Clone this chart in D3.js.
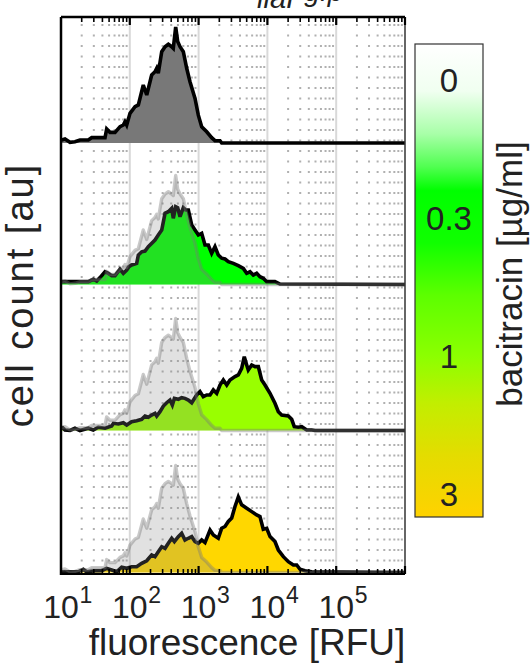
<!DOCTYPE html>
<html><head><meta charset="utf-8">
<script src="https://cdn.jsdelivr.net/npm/d3@7"></script>
<style>
body{margin:0;background:#fff;}
svg{display:block;}
text{font-family:"Liberation Sans",Arial,Helvetica,sans-serif;fill:#222;}
</style>
</head><body>
<svg id="chart" width="532" height="664"></svg>
<script>
// ---------- data (x in log10 RFU, y = normalised cell count) ----------
const ctrlLog = [1.01,1.058,1.131,1.203,1.276,1.397,1.446,1.64,1.664,1.712,1.785,1.858,1.906,1.93,1.955,2.003,2.076,2.124,2.196,2.246,2.318,2.366,2.391,2.414,2.464,2.512,2.56,2.609,2.632,2.667,2.696,2.73,2.778,2.827,2.875,2.948,2.996,3.045,3.118,3.19,3.238,3.311,3.336,6];
const ctrlCount = [0.026,0.034,0.006,0.011,0.026,0.026,0.046,0.046,0.121,0.092,0.092,0.141,0.155,0.184,0.155,0.256,0.313,0.328,0.5,0.414,0.586,0.614,0.644,0.601,0.787,0.83,0.851,0.83,0.816,1.0,0.874,0.83,0.787,0.644,0.528,0.384,0.24,0.14,0.097,0.046,0.02,0.02,0,0];

const bac03Log = [1.01,1.397,1.469,1.519,1.567,1.64,1.688,1.737,1.785,1.858,1.906,1.955,1.988,2.027,2.1,2.124,2.173,2.221,2.269,2.366,2.414,2.464,2.512,2.56,2.609,2.632,2.667,2.696,2.73,2.778,2.813,2.851,2.9,2.948,2.996,3.045,3.093,3.141,3.19,3.238,3.286,3.336,3.384,3.432,3.505,3.577,3.65,3.699,3.747,3.795,3.844,3.892,3.94,3.99,4.11,4.183,6];
const bac03Count = [0.026,0.026,0.048,0.032,0.063,0.117,0.103,0.081,0.081,0.14,0.103,0.133,0.164,0.179,0.194,0.27,0.3,0.307,0.347,0.408,0.454,0.5,0.653,0.668,0.699,0.607,0.714,0.705,0.622,0.705,0.684,0.684,0.546,0.5,0.454,0.47,0.362,0.362,0.286,0.347,0.271,0.241,0.234,0.21,0.194,0.173,0.148,0.103,0.117,0.087,0.103,0.072,0.057,0.026,0.026,0.004,0];

const bac1Log = [1.01,1.058,1.131,1.203,1.276,1.397,1.469,1.542,1.64,1.737,1.762,1.834,1.906,1.955,2.027,2.1,2.173,2.221,2.269,2.318,2.366,2.391,2.439,2.488,2.536,2.584,2.618,2.648,2.705,2.754,2.802,2.851,2.9,2.972,3.02,3.068,3.118,3.166,3.214,3.263,3.311,3.359,3.409,3.456,3.529,3.577,3.626,3.664,3.699,3.722,3.772,3.82,3.868,3.917,3.965,4.038,4.11,4.159,4.208,4.304,4.353,4.391,4.449,4.499,4.571,4.644,4.692,6];
const bac1Count = [0.034,0.004,0,0.02,0,0.02,0.004,0.029,0.02,0.04,0.064,0.058,0.07,0.049,0.079,0.088,0.1,0.129,0.118,0.138,0.153,0.129,0.168,0.218,0.248,0.272,0.228,0.287,0.278,0.293,0.287,0.272,0.248,0.317,0.347,0.302,0.317,0.317,0.362,0.332,0.406,0.451,0.406,0.451,0.481,0.496,0.555,0.659,0.585,0.54,0.585,0.57,0.57,0.451,0.406,0.332,0.243,0.168,0.138,0.129,0.1,0.034,0.029,0.034,0.004,0.004,0,0];

const bac3Log = [1.01,1.251,1.324,1.372,1.494,1.591,1.664,1.737,1.809,1.882,1.955,2.027,2.1,2.173,2.246,2.318,2.366,2.414,2.464,2.512,2.56,2.609,2.648,2.705,2.754,2.802,2.851,2.9,2.948,2.996,3.045,3.093,3.166,3.214,3.286,3.336,3.384,3.432,3.481,3.529,3.577,3.626,3.699,3.772,3.844,3.892,3.94,3.99,4.038,4.11,4.159,4.232,4.304,4.377,4.426,4.474,4.547,4.644,6];
const bac3Count = [0.007,0.007,0.03,0.007,0.017,0.017,0.039,0.023,0.007,0.049,0.039,0.054,0.054,0.086,0.11,0.164,0.148,0.194,0.241,0.226,0.273,0.32,0.288,0.335,0.367,0.304,0.32,0.335,0.288,0.273,0.304,0.279,0.397,0.35,0.32,0.414,0.43,0.477,0.509,0.617,0.705,0.632,0.601,0.569,0.538,0.523,0.404,0.413,0.336,0.29,0.21,0.148,0.101,0.07,0.07,0.03,0.017,0.007,0];

const concentrations = ["0", "0.3", "1", "3"];
const panelColors = ["#787878", "#00ff00", "#99ff00", "#ffd700"];
const tickExponents = [1, 2, 3, 4, 5];
const xDomain = [1e1, 1e6];

// ---------- layout ----------
const svg = d3.select("#chart");
const L = 61, R = 405, T = 17, B = 574;
const panelBase = [143, 284.5, 430.5, 572.5];
const panelUnit = [116, 109, 112, 107];

const x = d3.scaleLog().domain(xDomain).range([L, R]);
const toX = v => x(Math.pow(10, v));

const series = [
  {log: ctrlLog, cnt: ctrlCount},
  {log: bac03Log, cnt: bac03Count},
  {log: bac1Log, cnt: bac1Count},
  {log: bac3Log, cnt: bac3Count}
];
const zip = s => s.log.map((v, i) => [v, s.cnt[i]]);

// ---------- grid ----------
const minorVals = [];
for (let d = 1; d < 6; d++) for (let m = 2; m <= 9; m++) minorVals.push(m * Math.pow(10, d));
const majorVals = [1e2, 1e3, 1e4, 1e5];

svg.append("g").selectAll("line").data(minorVals).join("line")
  .attr("x1", d => x(d)).attr("x2", d => x(d)).attr("y1", T + 7).attr("y2", B)
  .attr("stroke", "#b0b0b0").attr("stroke-width", 2).attr("stroke-dasharray", "2,8.5");
svg.append("g").selectAll("line").data(majorVals).join("line")
  .attr("x1", d => x(d)).attr("x2", d => x(d)).attr("y1", T).attr("y2", B)
  .attr("stroke", "#d9d9d9").attr("stroke-width", 2);

// ---------- histograms ----------
series.forEach((s, i) => {
  const y = d3.scaleLinear().domain([0, 1]).range([panelBase[i], panelBase[i] - panelUnit[i]]);
  const area = d3.area().x(d => toX(d[0])).y0(panelBase[i]).y1(d => y(d[1]));
  const line = d3.line().x(d => toX(d[0])).y(d => y(d[1]));
  const g = svg.append("g");
  g.append("path").datum(zip(s)).attr("d", area).attr("fill", panelColors[i]);
  g.append("path").datum(zip(s)).attr("d", line).attr("fill", "none")
    .attr("stroke", "#000").attr("stroke-width", 3.6).attr("stroke-linejoin", "miter").attr("stroke-miterlimit", 3);
  if (i > 0) {
    const ref = zip(series[0]);
    g.append("path").datum(ref).attr("d", area).attr("fill", "#888").attr("fill-opacity", 0.25);
    g.append("path").datum(ref).attr("d", line).attr("fill", "none")
      .attr("stroke", "#777").attr("stroke-opacity", 0.4).attr("stroke-width", 3.4).attr("stroke-linejoin", "round");
  }
});

// ---------- frame & ticks ----------
const frame = svg.append("g").attr("fill", "none").attr("stroke", "#000");
frame.append("line").attr("x1", L).attr("x2", L).attr("y1", T).attr("y2", B + 1).attr("stroke-width", 2.5);
frame.append("line").attr("x1", L).attr("x2", R).attr("y1", T).attr("y2", T).attr("stroke-width", 2.5);
frame.append("line").attr("x1", R).attr("x2", R).attr("y1", T).attr("y2", B).attr("stroke-width", 1.5).attr("stroke", "#333");
frame.append("line").attr("x1", L).attr("x2", R).attr("y1", B).attr("y2", B).attr("stroke-width", 1.8);

const isMajor = v => Math.abs(Math.log10(v) - Math.round(Math.log10(v))) < 1e-9;
const allTicks = minorVals.concat(majorVals, [1e6]);
frame.append("g").selectAll("line").data(allTicks).join("line")
  .attr("x1", d => x(d)).attr("x2", d => x(d)).attr("y1", T)
  .attr("y2", d => T + (isMajor(d) ? 8 : 5)).attr("stroke-width", d => isMajor(d) ? 2.2 : 1.6);
frame.append("g").selectAll("line").data(allTicks).join("line")
  .attr("x1", d => x(d)).attr("x2", d => x(d)).attr("y1", B)
  .attr("y2", d => B - (isMajor(d) ? 8 : 5)).attr("stroke-width", d => isMajor(d) ? 2.2 : 1.6);

// ---------- tick labels (10 with superscript exponent) ----------
const tl = svg.append("g").selectAll("text").data(tickExponents).join("text")
  .attr("y", 618).attr("font-size", 32);
tl.append("tspan").attr("x", d => x(Math.pow(10, d))).attr("text-anchor", "middle").text("10");
tl.append("tspan").attr("x", d => x(Math.pow(10, d)) + 18.5).attr("y", 603)
  .attr("font-size", 23).attr("text-anchor", "start").text(d => String(d));

// axis titles
svg.append("text").attr("x", 247).attr("y", 655).attr("text-anchor", "middle")
  .attr("font-size", 37).text("fluorescence [RFU]");
svg.append("text").attr("transform", "translate(33,295) rotate(-90)").attr("text-anchor", "middle")
  .attr("font-size", 38).attr("letter-spacing", 2).text("cell count [au]");

// clipped title (cut by the top of the figure, as in the source)
const title = svg.append("text").attr("font-size", 30).attr("font-style", "italic");
title.append("tspan").attr("x", 236).attr("y", -1).text("P");
title.append("tspan").attr("x", 257).attr("y", 7.5).attr("font-size", 29).text("liaI");
title.append("tspan").attr("x", 295).attr("y", 1).attr("font-size", 28).text("-gfp");

// ---------- colourbar ----------
const cbX = 415, cbW = 68, cbT = 44, cbB = 517;
const defs = svg.append("defs");
const grad = defs.append("linearGradient").attr("id", "cbgrad").attr("x1", 0).attr("x2", 0).attr("y1", 0).attr("y2", 1);
const stops = [[0, "#ffffff"], [0.1, "#f0fff0"], [0.19, "#a8ffa8"], [0.26, "#50ff50"], [0.31, "#00ff00"],
               [0.42, "#10ff00"], [0.53, "#5cff00"], [0.66, "#8cff00"], [0.76, "#c2ee00"], [0.87, "#e4dc00"], [1, "#ffd200"]];
grad.selectAll("stop").data(stops).join("stop").attr("offset", d => d[0]).attr("stop-color", d => d[1]);
svg.append("rect").attr("x", cbX).attr("y", cbT).attr("width", cbW).attr("height", cbB - cbT)
  .attr("fill", "url(#cbgrad)").attr("stroke", "#333").attr("stroke-width", 1.2);

const cbScale = d3.scalePoint().domain(concentrations).range([80, 494]);
svg.append("g").selectAll("text").data(concentrations).join("text")
  .attr("x", cbX + cbW / 2).attr("y", d => cbScale(d)).attr("dy", "0.36em")
  .attr("text-anchor", "middle").attr("font-size", 33).text(d => d);

svg.append("text").attr("transform", "translate(522,274) rotate(-90)").attr("text-anchor", "middle")
  .attr("font-size", 35).text("bacitracin [µg/ml]");
</script>
</body></html>
